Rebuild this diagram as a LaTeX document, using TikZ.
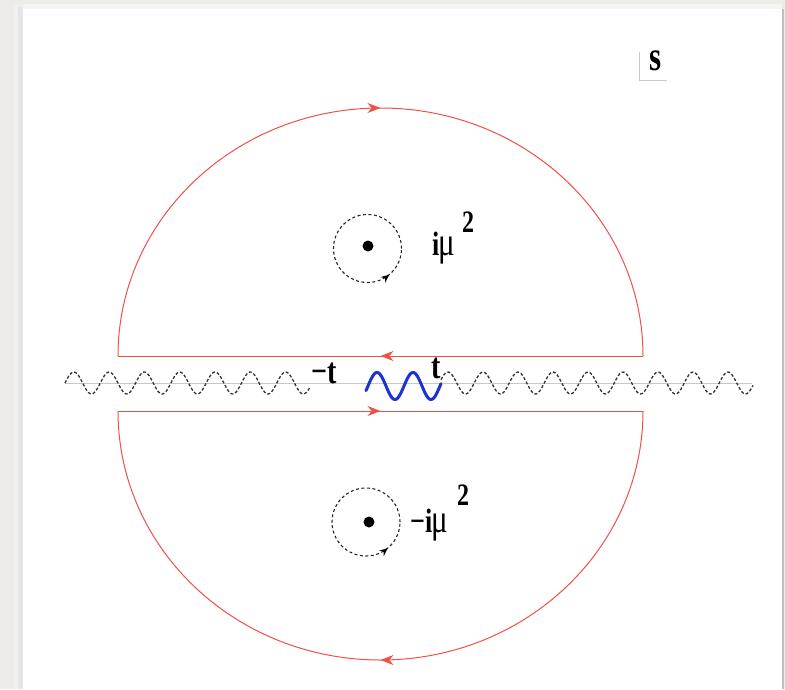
\documentclass[tikz,border=0pt]{standalone}
\usepackage{fontspec}
\setmainfont{Liberation Serif}
\usetikzlibrary{arrows.meta,decorations.markings}
\definecolor{bgpaper}{RGB}{237,236,232}
\definecolor{contred}{RGB}{240,80,70}
\definecolor{cutblue}{RGB}{30,50,210}
\definecolor{axisgray}{RGB}{200,200,200}
\tikzset{
  contour/.style={draw=contred, line width=1pt},
  midarrow/.style={postaction={decorate}, decoration={markings,
      mark=at position 0.5 with {\arrow[contred]{Stealth[length=13pt,width=10pt]}}}},
  wave/.style={draw=black!80, line width=1.3pt, dash pattern=on 3pt off 2pt},
  cutwave/.style={draw=cutblue, line width=3pt, line cap=round},
  axisline/.style={draw=axisgray, line width=0.9pt},
  polecirc/.style={draw=black!85, line width=1.1pt, dash pattern=on 3pt off 2.5pt},
  polearrow/.style={postaction={decorate}, decoration={markings,
      mark=at position 0.86 with {\arrow[black,solid]{Stealth[length=8pt,width=7pt]}}}},
  poledot/.style={circle, fill=black, minimum size=11pt, inner sep=0pt},
  lbl/.style={inner sep=0pt, anchor=base west},
}
\begin{document}
\begin{tikzpicture}[x=1pt,y=1pt]
\useasboundingbox (0,0) rectangle (785,-689);
% paper background and panel
\fill[bgpaper] (0,0) rectangle (785,-689);
\fill[black!6] (14,-5) rectangle (23,-689);
\fill[black!10] (18,-7) rectangle (23,-689);
\fill[black!4] (23,-4) rectangle (782,-9);
\fill[white] (23,-9) rectangle (782,-689);
\fill[black!25] (782,-9) rectangle (784,-689);

% plane label
\coordinate (sT) at (639,-52);
\coordinate (sC) at (639,-80);
\coordinate (sR) at (667,-80);
\draw[axisgray, line width=0.8pt] (sT) -- (sC) -- (sR);
\node[lbl] (s) at (649,-70) {\scalebox{1}[1.35]{\fontsize{31}{31}\selectfont\bfseries s}};

% real axis
\coordinate (axL) at (65,-383);
\coordinate (axR) at (752,-383);
\draw[axisline] (axL) -- (axR);

% cuts
\draw[wave] plot[domain=65:310, samples=200, smooth] (\x, {-383 + 11*sin((\x-65)/35.3*360)});
\draw[wave] plot[domain=441:753, samples=200, smooth] (\x, {-383 + 11*cos((\x-448)/35*360)});
\draw[cutwave] plot[domain=366:441, samples=90, smooth] (\x, {-386 + 13.5*sin((\x-368)/36*360)});

% branch point labels
\node[lbl] (mt) at (311,-383) {\scalebox{1}[1.3]{\fontsize{28}{28}\selectfont\bfseries −t}};
\node[lbl] (pt) at (431,-378) {\scalebox{1}[1.3]{\fontsize{28}{28}\selectfont\bfseries t}};

% contour
\coordinate (UL) at (118,-356);
\coordinate (UR) at (643,-356);
\coordinate (LL) at (118,-411);
\coordinate (LR) at (643,-411);
\draw[contour, midarrow] (UL) arc[start angle=180, end angle=0, x radius=262.5, y radius=248];
\draw[contour, midarrow] (UR) -- (UL);
\draw[contour, midarrow] (LL) -- (LR);
\draw[contour, midarrow] (LR) arc[start angle=0, end angle=-180, x radius=262.5, y radius=249];

% poles
\node[poledot] (p1) at (368,-246) {};
\draw[polecirc, polearrow] (367.5,-248.5) circle[radius=34];
\node[poledot] (p2) at (369,-522) {};
\draw[polecirc, polearrow] (366,-522) circle[radius=34];

% pole labels
\node[lbl] (l1) at (432,-255) {\scalebox{1}[1.3]{\fontsize{26}{26}\selectfont\textbf{i}\kern-0.5pt{\fontsize{31}{31}\selectfont μ}}};
\node[lbl] (l1s) at (462,-232) {\scalebox{1}[1.3]{\fontsize{24}{24}\selectfont\bfseries 2}};
\node[lbl] (l2) at (410,-532) {\scalebox{1}[1.3]{\fontsize{26}{26}\selectfont\textbf{−i}\kern-0.5pt{\fontsize{31}{31}\selectfont μ}}};
\node[lbl] (l2s) at (457,-505) {\scalebox{1}[1.3]{\fontsize{24}{24}\selectfont\bfseries 2}};
\end{tikzpicture}
\end{document}
